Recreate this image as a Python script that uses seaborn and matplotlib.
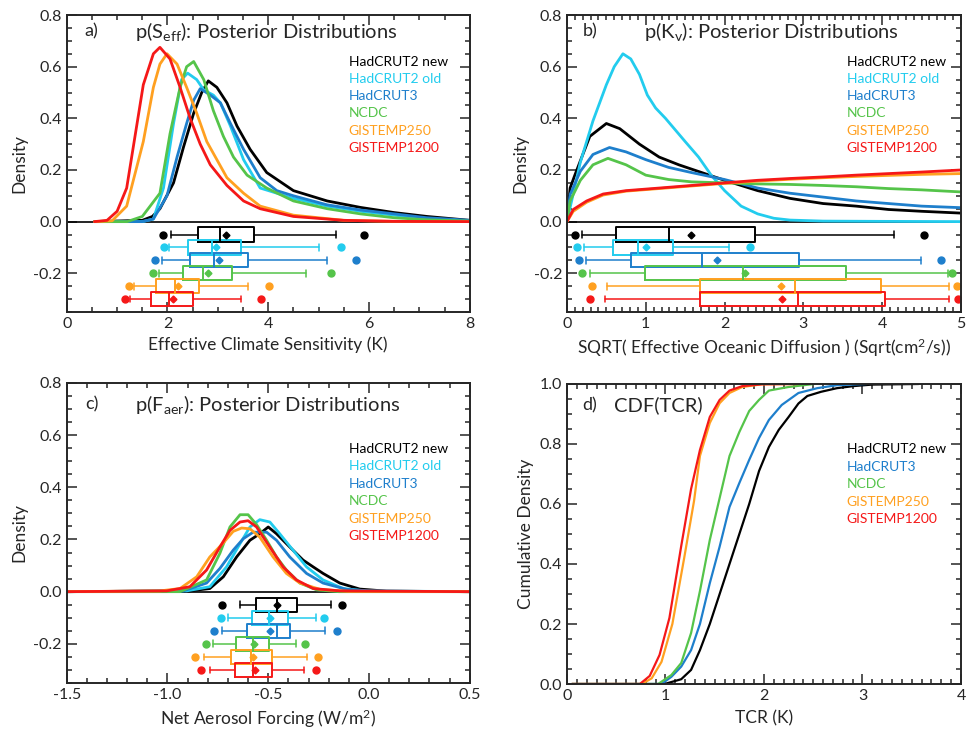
import pandas as pd
import matplotlib
matplotlib.use('Agg')
import matplotlib.pyplot as plt
from matplotlib.ticker import MultipleLocator, FormatStrFormatter
import seaborn as sns

# Datasets and colours
names = ['HadCRUT2 new', 'HadCRUT2 old', 'HadCRUT3', 'NCDC', 'GISTEMP250', 'GISTEMP1200']
colours = {'HadCRUT2 new': '#000000', 'HadCRUT2 old': '#22CCEE', 'HadCRUT3': '#1E7FCC',
           'NCDC': '#55C44A', 'GISTEMP250': '#FFA020', 'GISTEMP1200': '#F51818'}

# ---- a) Effective climate sensitivity densities
seff_had2new_x = [0.55, 1.5, 1.7, 1.85, 2.12, 2.32, 2.52, 2.68, 2.81, 2.98, 3.18, 3.38, 3.64, 3.97, 4.5, 5.17, 5.83, 6.5, 7.15, 8.0]
seff_had2new_y = [0, 0.005, 0.02, 0.05, 0.15, 0.29, 0.42, 0.50, 0.545, 0.52, 0.46, 0.37, 0.28, 0.19, 0.12, 0.08, 0.055, 0.035, 0.02, 0.005]
seff_had2old_x = [0.55, 1.5, 1.72, 1.92, 2.12, 2.28, 2.40, 2.58, 2.72, 2.91, 3.05, 3.25, 3.51, 3.84, 4.17, 4.5, 5.17, 5.83, 6.5, 7.15, 8.0]
seff_had2old_y = [0, 0, 0.01, 0.13, 0.38, 0.55, 0.575, 0.55, 0.51, 0.49, 0.46, 0.37, 0.24, 0.13, 0.11, 0.09, 0.06, 0.04, 0.025, 0.01, 0.003]
seff_had3_x = [0.55, 1.5, 1.72, 1.99, 2.19, 2.38, 2.52, 2.65, 2.85, 3.05, 3.25, 3.51, 3.84, 4.17, 4.5, 5.17, 5.83, 6.5, 7.15, 8.0]
seff_had3_y = [0, 0, 0.01, 0.10, 0.25, 0.38, 0.47, 0.515, 0.49, 0.46, 0.38, 0.28, 0.17, 0.12, 0.10, 0.065, 0.045, 0.03, 0.015, 0.005]
seff_ncdc_x = [0.55, 1.2, 1.5, 1.85, 2.05, 2.25, 2.38, 2.52, 2.72, 2.91, 3.11, 3.31, 3.58, 3.97, 4.5, 5.17, 5.83, 6.5, 7.15, 8.0]
seff_ncdc_y = [0, 0, 0.02, 0.11, 0.34, 0.52, 0.60, 0.62, 0.55, 0.43, 0.33, 0.25, 0.18, 0.13, 0.08, 0.05, 0.03, 0.015, 0.007, 0.002]
seff_gis250_x = [0.55, 0.9, 1.19, 1.52, 1.72, 1.85, 1.99, 2.19, 2.38, 2.58, 2.78, 2.98, 3.18, 3.51, 3.84, 4.5, 5.5, 6.5, 8.0]
seff_gis250_y = [0, 0.003, 0.06, 0.31, 0.52, 0.61, 0.65, 0.61, 0.52, 0.42, 0.31, 0.24, 0.17, 0.11, 0.06, 0.025, 0.005, 0.001, 0]
seff_gis1200_x = [0.55, 0.8, 1.0, 1.19, 1.52, 1.72, 1.85, 2.05, 2.25, 2.45, 2.65, 2.85, 3.18, 3.51, 3.84, 4.5, 5.5, 6.5, 8.0]
seff_gis1200_y = [0, 0.005, 0.04, 0.13, 0.53, 0.65, 0.675, 0.63, 0.52, 0.40, 0.30, 0.22, 0.14, 0.08, 0.05, 0.02, 0.005, 0.001, 0]

seff_dot_lo = [1.92, 1.93, 1.75, 1.72, 1.24, 1.16]
seff_whis_lo = [2.07, 2.03, 1.89, 1.84, 1.34, 1.26]
seff_q1 = [2.60, 2.40, 2.44, 2.30, 1.77, 1.67]
seff_med = [3.05, 2.88, 2.92, 2.70, 2.15, 2.03]
seff_mean = [3.16, 2.97, 3.03, 2.81, 2.20, 2.10]
seff_q3 = [3.72, 3.46, 3.60, 3.28, 2.62, 2.50]
seff_whis_hi = [5.35, 5.01, 5.17, 4.74, 3.59, 3.45]
seff_dot_hi = [5.91, 5.45, 5.75, 5.25, 4.01, 3.85]

# ---- b) Effective oceanic diffusion densities
kv_had2new_x = [0, 0.04, 0.1, 0.29, 0.5, 0.67, 0.92, 1.17, 1.42, 1.71, 2.0, 2.42, 2.83, 3.25, 3.67, 4.08, 4.5, 5.0]
kv_had2new_y = [0, 0.13, 0.18, 0.33, 0.38, 0.36, 0.30, 0.25, 0.22, 0.19, 0.16, 0.12, 0.09, 0.07, 0.06, 0.047, 0.04, 0.033]
kv_had2old_x = [0, 0.17, 0.33, 0.5, 0.6, 0.71, 0.81, 0.92, 1.02, 1.125, 1.25, 1.375, 1.5, 1.67, 1.83, 2.0, 2.21, 2.42, 2.625, 2.83, 3.25, 4.0, 5.0]
kv_had2old_y = [0, 0.23, 0.39, 0.53, 0.60, 0.65, 0.63, 0.57, 0.49, 0.44, 0.40, 0.355, 0.31, 0.25, 0.18, 0.12, 0.06, 0.03, 0.013, 0.006, 0.002, 0.001, 0]
kv_had3_x = [0, 0.04, 0.17, 0.33, 0.54, 0.75, 1.0, 1.29, 1.58, 2.0, 2.42, 2.83, 3.25, 3.67, 4.08, 4.5, 5.0]
kv_had3_y = [0, 0.105, 0.195, 0.26, 0.287, 0.27, 0.24, 0.21, 0.19, 0.163, 0.13, 0.11, 0.095, 0.08, 0.07, 0.06, 0.054]
kv_ncdc_x = [0, 0.04, 0.17, 0.33, 0.52, 0.75, 1.0, 1.29, 1.58, 2.0, 2.42, 2.83, 3.25, 3.67, 4.08, 4.5, 5.0]
kv_ncdc_y = [0, 0.08, 0.16, 0.22, 0.245, 0.22, 0.18, 0.163, 0.154, 0.15, 0.146, 0.144, 0.14, 0.135, 0.128, 0.123, 0.115]
kv_gis250_x = [0, 0.08, 0.25, 0.46, 0.75, 1.17, 1.58, 2.0, 2.42, 2.83, 3.25, 3.67, 4.08, 4.5, 5.0]
kv_gis250_y = [0, 0.04, 0.075, 0.103, 0.118, 0.128, 0.138, 0.148, 0.157, 0.164, 0.17, 0.175, 0.179, 0.183, 0.186]
kv_gis1200_x = [0, 0.08, 0.25, 0.46, 0.75, 1.17, 1.58, 2.0, 2.42, 2.83, 3.25, 3.67, 4.08, 4.5, 5.0]
kv_gis1200_y = [0, 0.047, 0.08, 0.107, 0.12, 0.13, 0.14, 0.15, 0.16, 0.167, 0.173, 0.18, 0.186, 0.192, 0.2]

kv_dot_lo = [0.10, 0.125, 0.15, 0.19, 0.32, 0.29]
kv_whis_lo = [0.19, 0.21, 0.24, 0.29, 0.51, 0.48]
kv_q1 = [0.62, 0.58, 0.81, 0.99, 1.69, 1.69]
kv_med = [1.29, 0.90, 1.71, 2.23, 2.89, 2.93]
kv_mean = [1.58, 1.00, 1.91, 2.26, 2.72, 2.73]
kv_q3 = [2.38, 1.35, 2.94, 3.54, 3.99, 4.04]
kv_whis_hi = [4.15, 2.05, 4.49, 4.83, 4.85, 4.85]
kv_dot_hi = [4.53, 2.32, 4.75, 4.88, 4.95, 4.96]

# ---- c) Net aerosol forcing densities
faer_had2new_x = [-1.5, -0.889, -0.79, -0.723, -0.657, -0.591, -0.542, -0.5, -0.459, -0.393, -0.327, -0.277, -0.228, -0.145, -0.046, 0.087, 0.5]
faer_had2new_y = [0, 0.003, 0.012, 0.057, 0.133, 0.197, 0.222, 0.248, 0.222, 0.171, 0.121, 0.095, 0.07, 0.033, 0.01, 0.002, 0]
faer_had2old_x = [-1.5, -0.905, -0.79, -0.707, -0.64, -0.591, -0.542, -0.492, -0.443, -0.377, -0.31, -0.228, -0.128, -0.013, 0.5]
faer_had2old_y = [0, 0.003, 0.019, 0.095, 0.184, 0.248, 0.276, 0.267, 0.222, 0.159, 0.095, 0.045, 0.012, 0.003, 0]
faer_had3_x = [-1.5, -0.922, -0.806, -0.74, -0.674, -0.624, -0.575, -0.508, -0.459, -0.393, -0.31, -0.228, -0.112, 0.0, 0.5]
faer_had3_y = [0, 0.003, 0.033, 0.089, 0.159, 0.203, 0.228, 0.228, 0.197, 0.133, 0.07, 0.033, 0.009, 0.002, 0]
faer_ncdc_x = [-1.5, -0.938, -0.806, -0.74, -0.69, -0.64, -0.60, -0.558, -0.508, -0.459, -0.41, -0.343, -0.26, -0.15, 0.5]
faer_ncdc_y = [0, 0, 0.045, 0.147, 0.248, 0.295, 0.295, 0.257, 0.197, 0.133, 0.083, 0.033, 0.007, 0, 0]
faer_gis250_x = [-1.5, -1.037, -0.938, -0.855, -0.79, -0.723, -0.674, -0.632, -0.591, -0.542, -0.476, -0.41, -0.343, -0.244, -0.1, 0.5]
faer_gis250_y = [0, 0.003, 0.012, 0.057, 0.133, 0.187, 0.231, 0.244, 0.241, 0.209, 0.133, 0.07, 0.033, 0.009, 0.001, 0]
faer_gis1200_x = [-1.5, -1.004, -0.889, -0.806, -0.74, -0.69, -0.64, -0.60, -0.558, -0.492, -0.426, -0.36, -0.277, -0.145, 0.5]
faer_gis1200_y = [0, 0.003, 0.019, 0.083, 0.171, 0.235, 0.267, 0.272, 0.248, 0.171, 0.095, 0.045, 0.012, 0.003, 0]

faer_dot_lo = [-0.731, -0.733, -0.771, -0.811, -0.862, -0.832]
faer_whis_lo = [-0.64, -0.70, -0.728, -0.774, -0.819, -0.791]
faer_q1 = [-0.563, -0.583, -0.604, -0.662, -0.687, -0.667]
faer_med = [-0.457, -0.495, -0.455, -0.574, -0.588, -0.574]
faer_mean = [-0.455, -0.49, -0.492, -0.569, -0.574, -0.564]
faer_q3 = [-0.356, -0.40, -0.394, -0.497, -0.482, -0.482]
faer_whis_hi = [-0.191, -0.265, -0.216, -0.364, -0.31, -0.323]
faer_dot_hi = [-0.133, -0.222, -0.161, -0.32, -0.252, -0.265]

# ---- d) CDF of TCR (no HadCRUT2 old)
tcr_had2new_x = [0.05, 0.99, 1.16, 1.26, 1.35, 1.45, 1.55, 1.65, 1.75, 1.85, 1.95, 2.05, 2.15, 2.25, 2.35, 2.44, 2.58, 2.74, 2.91, 3.1, 3.57]
tcr_had2new_y = [0, 0, 0.016, 0.047, 0.113, 0.2, 0.3, 0.4, 0.5, 0.6, 0.71, 0.79, 0.847, 0.89, 0.935, 0.96, 0.974, 0.986, 0.993, 0.998, 1.0]
tcr_had3_x = [0.05, 0.96, 1.06, 1.16, 1.26, 1.35, 1.45, 1.55, 1.65, 1.75, 1.85, 1.95, 2.05, 2.18, 2.35, 2.54, 2.74, 3.04]
tcr_had3_y = [0, 0, 0.024, 0.058, 0.113, 0.2, 0.336, 0.458, 0.59, 0.67, 0.747, 0.82, 0.88, 0.93, 0.97, 0.986, 0.996, 1.0]
tcr_ncdc_x = [0.05, 0.925, 1.06, 1.16, 1.26, 1.35, 1.45, 1.55, 1.65, 1.75, 1.85, 1.95, 2.05, 2.25, 2.51]
tcr_ncdc_y = [0, 0, 0.03, 0.07, 0.17, 0.31, 0.48, 0.62, 0.76, 0.84, 0.91, 0.947, 0.978, 0.99, 1.0]
tcr_gis250_x = [0.05, 0.76, 0.86, 0.96, 1.07, 1.19, 1.29, 1.35, 1.45, 1.55, 1.65, 1.78, 1.98, 2.35]
tcr_gis250_y = [0, 0, 0.019, 0.074, 0.2, 0.42, 0.61, 0.76, 0.87, 0.936, 0.97, 0.99, 0.999, 1.0]
tcr_gis1200_x = [0.05, 0.74, 0.84, 0.94, 1.04, 1.16, 1.26, 1.35, 1.45, 1.55, 1.65, 1.78, 1.98, 2.33]
tcr_gis1200_y = [0, 0, 0.027, 0.097, 0.22, 0.46, 0.65, 0.78, 0.89, 0.947, 0.978, 0.993, 0.999, 1.0]


def long_df(series):
    frames = [pd.DataFrame({'x': x, 'y': y, 'set': n}) for n, x, y in series]
    return pd.concat(frames, ignore_index=True)


seff_df = long_df([(names[0], seff_had2new_x, seff_had2new_y), (names[1], seff_had2old_x, seff_had2old_y),
                   (names[2], seff_had3_x, seff_had3_y), (names[3], seff_ncdc_x, seff_ncdc_y),
                   (names[4], seff_gis250_x, seff_gis250_y), (names[5], seff_gis1200_x, seff_gis1200_y)])
kv_df = long_df([(names[0], kv_had2new_x, kv_had2new_y), (names[1], kv_had2old_x, kv_had2old_y),
                 (names[2], kv_had3_x, kv_had3_y), (names[3], kv_ncdc_x, kv_ncdc_y),
                 (names[4], kv_gis250_x, kv_gis250_y), (names[5], kv_gis1200_x, kv_gis1200_y)])
faer_df = long_df([(names[0], faer_had2new_x, faer_had2new_y), (names[1], faer_had2old_x, faer_had2old_y),
                   (names[2], faer_had3_x, faer_had3_y), (names[3], faer_ncdc_x, faer_ncdc_y),
                   (names[4], faer_gis250_x, faer_gis250_y), (names[5], faer_gis1200_x, faer_gis1200_y)])
tcr_names = [names[0], names[2], names[3], names[4], names[5]]
tcr_df = long_df([(names[0], tcr_had2new_x, tcr_had2new_y), (names[2], tcr_had3_x, tcr_had3_y),
                  (names[3], tcr_ncdc_x, tcr_ncdc_y), (names[4], tcr_gis250_x, tcr_gis250_y),
                  (names[5], tcr_gis1200_x, tcr_gis1200_y)])

# Style
sns.set_style('ticks')
plt.rcParams['font.family'] = ['Lato', 'DejaVu Sans']
plt.rcParams['mathtext.default'] = 'regular'
plt.rcParams['axes.linewidth'] = 1.4

fig = plt.figure(figsize=(9.67, 7.3), dpi=100)
ax_a = fig.add_axes([0.069, 0.5726, 0.4168, 0.4068])
ax_b = fig.add_axes([0.5863, 0.5726, 0.4075, 0.4068])
ax_c = fig.add_axes([0.069, 0.0644, 0.4168, 0.411])
ax_d = fig.add_axes([0.5863, 0.063, 0.4075, 0.411])


def draw_boxes(ax, dot_lo, whis_lo, q1, med, mean, q3, whis_hi, dot_hi):
    for i, n in enumerate(names):
        c = colours[n]
        st = dict(med=med[i], q1=q1[i], q3=q3[i], whislo=whis_lo[i], whishi=whis_hi[i],
                  mean=mean[i], fliers=[dot_lo[i], dot_hi[i]])
        ax.bxp([st], positions=[-0.05 * (i + 1)], widths=0.055, capwidths=0.026,
               orientation='horizontal', showmeans=True, manage_ticks=False,
               boxprops=dict(color=c, lw=1.4), whiskerprops=dict(color=c, lw=1.1),
               capprops=dict(color=c, lw=1.1), medianprops=dict(color=c, lw=1.4),
               meanprops=dict(marker='D', markerfacecolor=c, markeredgecolor=c, markersize=3.5),
               flierprops=dict(marker='o', markerfacecolor=c, markeredgecolor=c, markersize=5))


def style_axes(ax, xlim, ylim, xmaj, xmin, ymaj, ymin, xfmt, yfmt):
    ax.set_xlim(*xlim)
    ax.set_ylim(*ylim)
    ax.xaxis.set_major_locator(MultipleLocator(xmaj))
    ax.xaxis.set_minor_locator(MultipleLocator(xmin))
    ax.yaxis.set_major_locator(MultipleLocator(ymaj))
    ax.yaxis.set_minor_locator(MultipleLocator(ymin))
    ax.xaxis.set_major_formatter(FormatStrFormatter(xfmt))
    ax.yaxis.set_major_formatter(FormatStrFormatter(yfmt))
    ax.tick_params(which='both', direction='in', top=True, right=True, width=1.1, labelsize=11.5)
    ax.tick_params(which='major', length=7)
    ax.tick_params(which='minor', length=3.5)


def text_legend(ax, labels, x0, y0, dy=0.058):
    for i, n in enumerate(labels):
        ax.text(x0, y0 - i * dy, n, color=colours[n], transform=ax.transAxes,
                fontsize=10, va='center', ha='left')


def panel_title(ax, letter, title, xl, xt, y):
    ax.text(xl, y, letter, transform=ax.transAxes, fontsize=13, va='center')
    ax.text(xt, y, title, transform=ax.transAxes, fontsize=14.5, va='center')


# a)
ax_a.axhline(0, color='black', lw=1.2, zorder=1)
sns.lineplot(data=seff_df, x='x', y='y', hue='set', hue_order=names, palette=colours,
             estimator=None, sort=False, legend=False, lw=2, ax=ax_a)
draw_boxes(ax_a, seff_dot_lo, seff_whis_lo, seff_q1, seff_med, seff_mean, seff_q3, seff_whis_hi, seff_dot_hi)
style_axes(ax_a, (0, 8), (-0.35, 0.8), 2, 0.5, 0.2, 0.05, '%d', '%.1f')
ax_a.set_xlabel('Effective Climate Sensitivity (K)', fontsize=12.5)
ax_a.set_ylabel('Density', fontsize=12.5)
panel_title(ax_a, 'a)', 'p(S$_{eff}$): Posterior Distributions', 0.045, 0.17, 0.944)
text_legend(ax_a, names, 0.70, 0.843)

# b)
ax_b.axhline(0, color='black', lw=1.2, zorder=1)
sns.lineplot(data=kv_df, x='x', y='y', hue='set', hue_order=names, palette=colours,
             estimator=None, sort=False, legend=False, lw=2, ax=ax_b)
draw_boxes(ax_b, kv_dot_lo, kv_whis_lo, kv_q1, kv_med, kv_mean, kv_q3, kv_whis_hi, kv_dot_hi)
style_axes(ax_b, (0, 5), (-0.35, 0.8), 1, 0.1, 0.2, 0.05, '%d', '%.1f')
ax_b.set_xlabel('SQRT( Effective Oceanic Diffusion ) (Sqrt(cm$^2$/s))', fontsize=12.5)
ax_b.set_ylabel('Density', fontsize=12.5)
panel_title(ax_b, 'b)', 'p(K$_v$): Posterior Distributions', 0.04, 0.195, 0.944)
text_legend(ax_b, names, 0.71, 0.843)

# c)
ax_c.axhline(0, color='black', lw=1.2, zorder=1)
sns.lineplot(data=faer_df, x='x', y='y', hue='set', hue_order=names, palette=colours,
             estimator=None, sort=False, legend=False, lw=2, ax=ax_c)
draw_boxes(ax_c, faer_dot_lo, faer_whis_lo, faer_q1, faer_med, faer_mean, faer_q3, faer_whis_hi, faer_dot_hi)
style_axes(ax_c, (-1.5, 0.5), (-0.35, 0.8), 0.5, 0.1, 0.2, 0.05, '%.1f', '%.1f')
ax_c.set_xlabel('Net Aerosol Forcing (W/m$^2$)', fontsize=12.5)
ax_c.set_ylabel('Density', fontsize=12.5)
panel_title(ax_c, 'c)', 'p(F$_{aer}$): Posterior Distributions', 0.045, 0.17, 0.927)
text_legend(ax_c, names, 0.70, 0.78)

# d)
sns.lineplot(data=tcr_df, x='x', y='y', hue='set', hue_order=tcr_names, palette=colours,
             estimator=None, sort=False, legend=False, lw=1.6, ax=ax_d)
style_axes(ax_d, (0, 4), (0, 1.0), 1, 0.1, 0.2, 0.05, '%d', '%.1f')
ax_d.set_xlabel('TCR (K)', fontsize=12.5, labelpad=5)
ax_d.set_ylabel('Cumulative Density', fontsize=12.5)
panel_title(ax_d, 'd)', 'CDF(TCR)', 0.04, 0.12, 0.93)
text_legend(ax_d, tcr_names, 0.71, 0.782)

fig.savefig('out.png', dpi=100)
